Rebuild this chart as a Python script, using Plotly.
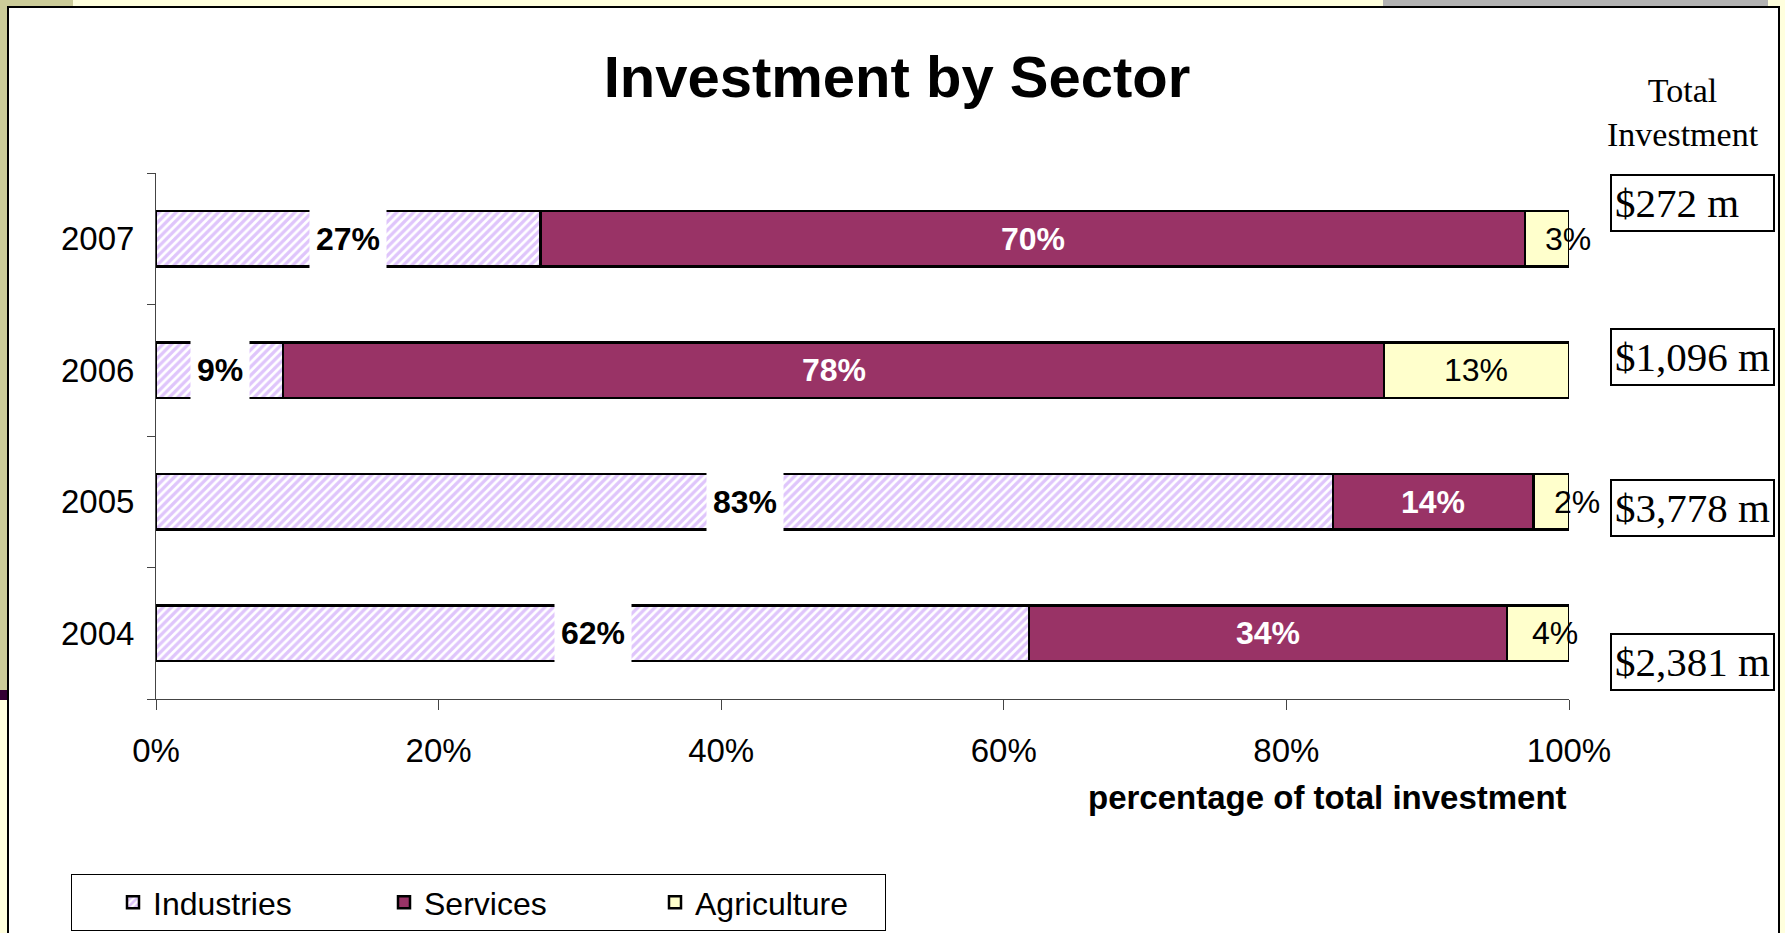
import plotly.graph_objects as go

# data
years = ["2004", "2005", "2006", "2007"]
industries = [61.8, 83.3, 9.0, 27.2]
services = [33.8, 14.2, 77.9, 69.7]
agriculture = [4.4, 2.5, 13.1, 3.1]
totals = [2381, 3778, 1096, 272]
x_ticks = [0, 20, 40, 60, 80, 100]

# small agriculture labels are nudged right, as in the original
agri_shift = [17, 26, 0, 21]

# layout (pixel) helpers
W, H = 1785, 933
L, R, T, B = 156, 1569, 173, 699


def px(x):
    return (x - L) / (R - L)


def py(y):
    return (B - y) / (B - T)


SANS = "Arial, Liberation Sans, sans-serif"
SERIF = "Times New Roman, Liberation Serif, serif"

fig = go.Figure()

fig.add_trace(go.Bar(
    y=years, x=industries, orientation="h", name="Industries",
    marker=dict(color="white", line=dict(color="black", width=2.5),
                pattern=dict(shape="/", fgcolor="#BF8CF7", bgcolor="white",
                             size=6, solidity=0.55)),
))
fig.add_trace(go.Bar(
    y=years, x=services, orientation="h", name="Services",
    marker=dict(color="#993366", line=dict(color="black", width=2.5)),
))
fig.add_trace(go.Bar(
    y=years, x=agriculture, orientation="h", name="Agriculture",
    marker=dict(color="#FFFFCC", line=dict(color="black", width=2.5)),
))

# segment labels
for i, yr in enumerate(years):
    a, s, g = industries[i], services[i], agriculture[i]
    fig.add_annotation(x=a / 2, y=i, text=f"{round(a)}%", showarrow=False,
                       xanchor="center", yanchor="middle",
                       font=dict(family=SANS, size=32, color="black", weight="bold"),
                       bgcolor="white", borderpad=6, height=52)
    fig.add_annotation(x=a + s / 2, y=i, text=f"{round(s)}%", showarrow=False,
                       xanchor="center", yanchor="middle",
                       font=dict(family=SANS, size=32, color="white", weight="bold"))
    fig.add_annotation(x=a + s + g / 2, y=i, text=f"{round(g)}%", showarrow=False,
                       xanchor="center", yanchor="middle", xshift=agri_shift[i],
                       font=dict(family=SANS, size=32, color="black"))

# total investment column
fig.add_annotation(xref="paper", yref="paper", x=px(1683), y=py(112),
                   xanchor="center", yanchor="middle",
                   text="Total<br>Investment", showarrow=False,
                   font=dict(family=SERIF, size=34, color="black"))
box_y = [py(662), py(508), py(357), py(203)]
for t, yy in zip(totals, box_y):
    fig.add_annotation(xref="paper", yref="paper", x=px(1692), y=yy,
                       xanchor="center", yanchor="middle",
                       text=f"${t:,} m", showarrow=False, align="left",
                       width=155, height=48, borderpad=3,
                       bordercolor="black", borderwidth=2, bgcolor="white",
                       font=dict(family=SERIF, size=41, color="black"))

# axis title
fig.add_annotation(xref="paper", yref="paper", x=1, y=py(797),
                   xanchor="right", yanchor="middle", showarrow=False,
                   text="percentage of total investment",
                   font=dict(family=SANS, size=33, color="black", weight="bold"))

# page frame
shapes = [
    dict(type="rect", x0=px(0), x1=px(7), y0=py(0), y1=py(690), fillcolor="#CCCC99"),
    dict(type="rect", x0=px(0), x1=px(7), y0=py(690), y1=py(700), fillcolor="#330033"),
    dict(type="rect", x0=px(0), x1=px(7), y0=py(700), y1=py(H), fillcolor="#FFFFDD"),
    dict(type="rect", x0=px(0), x1=px(73), y0=py(0), y1=py(6), fillcolor="#CCCC99"),
    dict(type="rect", x0=px(73), x1=px(1383), y0=py(0), y1=py(6), fillcolor="#FFFFDD"),
    dict(type="rect", x0=px(1383), x1=px(1768), y0=py(0), y1=py(6), fillcolor="#B3B3B3"),
    dict(type="rect", x0=px(1768), x1=px(W), y0=py(0), y1=py(6), fillcolor="#FFFFDD"),
    dict(type="rect", x0=px(1780), x1=px(W), y0=py(6), y1=py(H), fillcolor="#FFFFDD"),
]
for s in shapes:
    fig.add_shape(xref="paper", yref="paper", line=dict(width=0), layer="below", **s)
fig.add_shape(type="rect", xref="paper", yref="paper",
              x0=px(8), x1=px(1779), y0=py(7), y1=py(H + 5),
              line=dict(color="black", width=2), layer="below")

fig.update_layout(
    width=W, height=H,
    margin=dict(l=L, r=W - R, t=T, b=H - B, autoexpand=False),
    barmode="stack", bargap=0.575,
    paper_bgcolor="white", plot_bgcolor="white",
    title=dict(text="Investment by Sector", x=0.5025, xref="container", xanchor="center",
               y=1 - 77 / H, yanchor="middle",
               font=dict(family=SANS, size=58, color="black", weight="bold")),
    xaxis=dict(range=[0, 100], tickvals=x_ticks, ticktext=[f"{v}%" for v in x_ticks],
               showline=True, linecolor="#444", linewidth=1,
               ticks="outside", ticklen=10, tickcolor="#444",
               showgrid=False, zeroline=False, ticklabelstandoff=12,
               tickfont=dict(family=SANS, size=33, color="black")),
    yaxis=dict(type="category", categoryarray=years, range=[-0.5, 3.5],
               showline=True, linecolor="#444", linewidth=1,
               ticks="outside", ticklen=8, tickcolor="#444", tickson="boundaries",
               showgrid=False, zeroline=False, ticklabelstandoff=14,
               tickfont=dict(family=SANS, size=33, color="black")),
    legend=dict(orientation="h", x=px(71), y=py(931), xanchor="left", yanchor="bottom",
                bordercolor="black", borderwidth=1, bgcolor="white",
                indentation=41, entrywidth=185, entrywidthmode="pixels",
                traceorder="normal",
                font=dict(family=SANS, size=32, color="black")),
    showlegend=True,
)

fig.write_html("out.html", config={"displayModeBar": False},
               post_script="document.body.style.margin='0';")
